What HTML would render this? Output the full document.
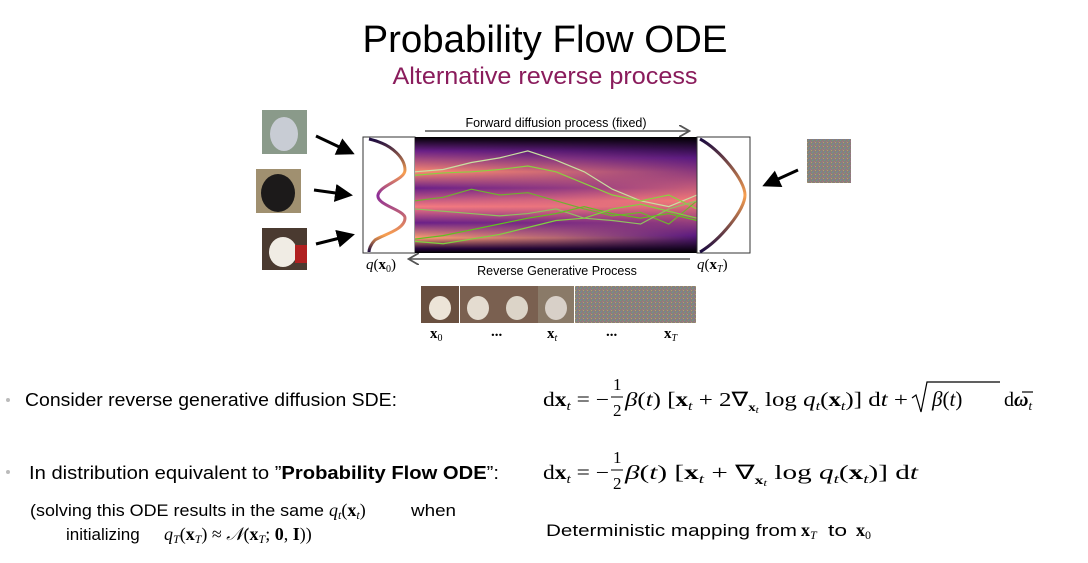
<!DOCTYPE html>
<html><head><meta charset="utf-8"><style>
html,body{margin:0;padding:0;background:#fff;width:1088px;height:563px;overflow:hidden}
svg{display:block}
.s{font-family:"Liberation Sans Narrow","Liberation Sans",sans-serif}
.m{font-family:"Liberation Serif",serif}
</style></head><body>
<svg id="slide" width="1088" height="563" viewBox="0 0 1088 563" xmlns="http://www.w3.org/2000/svg">
<defs>
<linearGradient id="bands" x1="0" y1="0" x2="0" y2="1">
<stop offset="0" stop-color="#000"/><stop offset="0.12" stop-color="#6a2088"/><stop offset="0.3" stop-color="#fa8a70"/>
<stop offset="0.44" stop-color="#6a2088"/><stop offset="0.6" stop-color="#f47a80"/><stop offset="0.74" stop-color="#6a2088"/>
<stop offset="0.87" stop-color="#fca070"/><stop offset="0.96" stop-color="#2a0640"/><stop offset="1" stop-color="#000"/>
</linearGradient>
<linearGradient id="single" x1="0" y1="0" x2="0" y2="1">
<stop offset="0" stop-color="#000"/><stop offset="0.18" stop-color="#5a1a80"/><stop offset="0.55" stop-color="#f47a78"/>
<stop offset="0.85" stop-color="#5a1a80"/><stop offset="1" stop-color="#000"/>
</linearGradient>
<linearGradient id="fadeL" x1="0" y1="0" x2="1" y2="0">
<stop offset="0" stop-color="#fff"/><stop offset="0.5" stop-color="#fff" stop-opacity="0.6"/><stop offset="1" stop-color="#fff" stop-opacity="0"/>
</linearGradient>
<mask id="mk"><rect x="415" y="137" width="282" height="116" fill="url(#fadeL)"/></mask>
<linearGradient id="curveG" x1="0" y1="0" x2="0" y2="1">
<stop offset="0" stop-color="#1a0a40"/><stop offset="0.3" stop-color="#f9a050"/><stop offset="0.5" stop-color="#8a2a9a"/>
<stop offset="0.85" stop-color="#f9a050"/><stop offset="1" stop-color="#1a0a40"/>
</linearGradient>
<linearGradient id="curveR" x1="0" y1="0" x2="0" y2="1">
<stop offset="0" stop-color="#1a0a40"/><stop offset="0.5" stop-color="#f9a050"/><stop offset="1" stop-color="#1a0a40"/>
</linearGradient>
<pattern id="noise" width="4" height="4" patternUnits="userSpaceOnUse">
<rect width="4" height="4" fill="#8a8078"/><rect width="1" height="1" fill="#6a9a8a"/><rect x="2" y="1" width="1" height="1" fill="#a07090"/><rect x="1" y="3" width="1" height="1" fill="#7080a8"/><rect x="3" y="2" width="1" height="1" fill="#b0a070"/>
</pattern>
<marker id="ah" markerWidth="8" markerHeight="8" refX="6" refY="4" orient="auto"><path d="M0,0 L7,4 L0,8" fill="none" stroke="#555" stroke-width="1.2"/></marker>
<marker id="bh" markerWidth="6" markerHeight="6" refX="5" refY="3" orient="auto"><path d="M0,0 L6,3 L0,6 Z" fill="#000"/></marker>
</defs>

<text class="s" x="545" y="52" font-size="38" text-anchor="middle" fill="#000" textLength="365" lengthAdjust="spacingAndGlyphs">Probability Flow ODE</text>
<text class="s" x="545" y="84" font-size="24" text-anchor="middle" fill="#8a1c5c" textLength="305" lengthAdjust="spacingAndGlyphs">Alternative reverse process</text>

<g>
<rect x="262" y="110" width="45" height="44" fill="#8a9a8a"/>
<ellipse cx="284" cy="134" rx="14" ry="17" fill="#c8ccd4"/>
<rect x="256" y="169" width="45" height="44" fill="#a09070"/>
<ellipse cx="278" cy="193" rx="17" ry="19" fill="#1c1a1a"/>
<rect x="262" y="228" width="45" height="42" fill="#4a3a30"/>
<ellipse cx="283" cy="252" rx="14" ry="15" fill="#f0ece4"/><rect x="295" y="245" width="12" height="18" fill="#b02020"/>
<line x1="316" y1="136" x2="352" y2="153" stroke="#000" stroke-width="3" marker-end="url(#bh)"/>
<line x1="314" y1="190" x2="350" y2="195" stroke="#000" stroke-width="3" marker-end="url(#bh)"/>
<line x1="316" y1="244" x2="352" y2="235" stroke="#000" stroke-width="3" marker-end="url(#bh)"/>
<rect x="807" y="139" width="44" height="44" fill="url(#noise)"/>
<line x1="798" y1="170" x2="765" y2="185" stroke="#000" stroke-width="3" marker-end="url(#bh)"/>

<rect x="363" y="137" width="52" height="116" fill="#fff" stroke="#333" stroke-width="1"/>
<path d="M369,139 C395,145 405,160 405,170 C405,180 380,185 378,195 C376,205 405,210 405,218 C405,230 382,235 375,240 C370,245 369,250 369,252" fill="none" stroke="url(#curveG)" stroke-width="3"/>
<rect x="415" y="137" width="282" height="116" fill="url(#single)"/>
<rect x="415" y="137" width="282" height="116" fill="url(#bands)" mask="url(#mk)"/>
<g id="traj"></g>
<rect x="697" y="137" width="53" height="116" fill="#fff" stroke="#333" stroke-width="1"/>
<path d="M700,139 C720,150 745,180 745,195 C745,210 720,240 700,252" fill="none" stroke="url(#curveR)" stroke-width="3"/>

<line x1="425" y1="131" x2="688" y2="131" stroke="#555" stroke-width="1.5" marker-end="url(#ah)"/>
<text x="556" y="127" font-family="Liberation Sans,sans-serif" font-size="12.5" text-anchor="middle">Forward diffusion process (fixed)</text>
<line x1="690" y1="259" x2="410" y2="259" stroke="#555" stroke-width="1.5" marker-end="url(#ah)"/>
<text x="557" y="275" font-family="Liberation Sans,sans-serif" font-size="12.5" text-anchor="middle">Reverse Generative Process</text>
<text class="m" x="366" y="269" font-size="15"><tspan font-style="italic">q</tspan>(<tspan font-weight="bold">x</tspan><tspan font-size="10" dy="3">0</tspan><tspan dy="-3">)</tspan></text>
<text class="m" x="697" y="269" font-size="15"><tspan font-style="italic">q</tspan>(<tspan font-weight="bold">x</tspan><tspan font-size="10" dy="3" font-style="italic">T</tspan><tspan dy="-3">)</tspan></text>

<g>
<rect x="421" y="286" width="38" height="37" fill="#6a5040"/><ellipse cx="440" cy="308" rx="11" ry="12" fill="#ece4d8"/>
<rect x="460" y="286" width="78" height="37" fill="#7a6050"/><ellipse cx="478" cy="308" rx="11" ry="12" fill="#e4dcd0"/><ellipse cx="517" cy="308" rx="11" ry="12" fill="#dcd4c8"/>
<rect x="538" y="286" width="36" height="37" fill="#8a7a68"/><ellipse cx="556" cy="308" rx="11" ry="12" fill="#d8d0c8"/>
<rect x="575" y="286" width="121" height="37" fill="url(#noise)"/>
</g>
<text class="m" font-size="15" font-weight="bold" x="430" y="338">x<tspan font-size="10" font-weight="normal" dy="3">0</tspan></text>
<text class="m" font-size="15" font-weight="bold" x="491" y="336">...</text>
<text class="m" font-size="15" font-weight="bold" x="547" y="338">x<tspan font-size="10" font-weight="normal" font-style="italic" dy="3">t</tspan></text>
<text class="m" font-size="15" font-weight="bold" x="606" y="336">...</text>
<text class="m" font-size="15" font-weight="bold" x="664" y="338">x<tspan font-size="10" font-weight="normal" font-style="italic" dy="3">T</tspan></text>
</g>

<g>
<circle cx="8" cy="400" r="2" fill="#bbb"/>
<text class="s" x="25" y="406" font-size="18" textLength="372" lengthAdjust="spacingAndGlyphs">Consider reverse generative diffusion SDE:</text>
</g>
<g class="m" font-size="20">
<text x="543" y="406" textLength="66" lengthAdjust="spacingAndGlyphs">d<tspan font-weight="bold">x</tspan><tspan font-size="13" font-style="italic" dy="4">t</tspan><tspan dy="-4"> = −</tspan></text>
<text x="613" y="390" font-size="17">1</text><line x1="611" y1="397" x2="623" y2="397" stroke="#000"/><text x="613" y="416" font-size="17">2</text>
<text x="625" y="406" textLength="283" lengthAdjust="spacingAndGlyphs"><tspan font-style="italic">β</tspan>(<tspan font-style="italic">t</tspan>) [<tspan font-weight="bold">x</tspan><tspan font-size="13" font-style="italic" dy="4">t</tspan><tspan dy="-4"> + 2∇</tspan><tspan font-size="12" font-weight="bold" dy="5">x</tspan><tspan font-size="9" font-style="italic" dy="2">t</tspan><tspan dy="-7"> log </tspan><tspan font-style="italic">q</tspan><tspan font-size="13" font-style="italic" dy="4">t</tspan><tspan dy="-4">(</tspan><tspan font-weight="bold">x</tspan><tspan font-size="13" font-style="italic" dy="4">t</tspan><tspan dy="-4">)] d</tspan><tspan font-style="italic">t</tspan> +</text>
<path d="M912,398 L916,395 L921,412 L927,382 L1000,382" fill="none" stroke="#000" stroke-width="1.2"/>
<text x="932" y="406" font-size="21"><tspan font-style="italic">β</tspan>(<tspan font-style="italic">t</tspan>)</text>
<text x="1004" y="406">d<tspan font-weight="bold" font-style="italic">ω</tspan><tspan font-size="13" font-style="italic" dy="4">t</tspan></text>
<line x1="1022" y1="392" x2="1033" y2="392" stroke="#000" stroke-width="1.2"/>
</g>

<g>
<circle cx="8" cy="472" r="2" fill="#bbb"/>
<text class="s" x="29" y="479" font-size="18" textLength="470" lengthAdjust="spacingAndGlyphs">In distribution equivalent to ”<tspan font-weight="bold">Probability Flow ODE</tspan>”:</text>
</g>
<g class="m" font-size="20">
<text x="543" y="479" textLength="66" lengthAdjust="spacingAndGlyphs">d<tspan font-weight="bold">x</tspan><tspan font-size="13" font-style="italic" dy="4">t</tspan><tspan dy="-4"> = −</tspan></text>
<text x="613" y="463" font-size="17">1</text><line x1="611" y1="470" x2="623" y2="470" stroke="#000"/><text x="613" y="489" font-size="17">2</text>
<text x="625" y="479" textLength="293" lengthAdjust="spacingAndGlyphs"><tspan font-style="italic">β</tspan>(<tspan font-style="italic">t</tspan>) [<tspan font-weight="bold">x</tspan><tspan font-size="13" font-style="italic" dy="4">t</tspan><tspan dy="-4"> + ∇</tspan><tspan font-size="12" font-weight="bold" dy="5">x</tspan><tspan font-size="9" font-style="italic" dy="2">t</tspan><tspan dy="-7"> log </tspan><tspan font-style="italic">q</tspan><tspan font-size="13" font-style="italic" dy="4">t</tspan><tspan dy="-4">(</tspan><tspan font-weight="bold">x</tspan><tspan font-size="13" font-style="italic" dy="4">t</tspan><tspan dy="-4">)] d</tspan><tspan font-style="italic">t</tspan></text>
</g>

<g font-size="17">
<text class="s" x="30" y="516" textLength="294" lengthAdjust="spacingAndGlyphs">(solving this ODE results in the same</text>
<text class="m" x="329" y="516" font-size="18"><tspan font-style="italic">q</tspan><tspan font-size="12" font-style="italic" dy="3">t</tspan><tspan dy="-3">(</tspan><tspan font-weight="bold">x</tspan><tspan font-size="12" font-style="italic" dy="3">t</tspan><tspan dy="-3">)</tspan></text>
<text class="s" x="411" y="516" textLength="45" lengthAdjust="spacingAndGlyphs">when</text>
<text class="s" x="66" y="540">initializing</text>
<text class="m" x="164" y="540" font-size="18"><tspan font-style="italic">q</tspan><tspan font-size="12" font-style="italic" dy="3">T</tspan><tspan dy="-3">(</tspan><tspan font-weight="bold">x</tspan><tspan font-size="12" font-style="italic" dy="3">T</tspan><tspan dy="-3">) ≈ </tspan><tspan font-style="italic">𝒩</tspan>(<tspan font-weight="bold">x</tspan><tspan font-size="12" font-style="italic" dy="3">T</tspan><tspan dy="-3">; </tspan><tspan font-weight="bold">0</tspan>, <tspan font-weight="bold">I</tspan>))</text>
</g>
<g>
<text class="s" x="546" y="536" font-size="17" textLength="251" lengthAdjust="spacingAndGlyphs">Deterministic mapping from</text>
<text class="m" x="801" y="536" font-size="18"><tspan font-weight="bold">x</tspan><tspan font-size="12" font-style="italic" dy="3">T</tspan></text>
<text class="s" x="828" y="536" font-size="17" textLength="19" lengthAdjust="spacingAndGlyphs">to</text>
<text class="m" x="856" y="536" font-size="18"><tspan font-weight="bold">x</tspan><tspan font-size="12" dy="3">0</tspan></text>
</g>
</svg>
<script>
// trajectory y-values (fraction of heatmap height) sampled at evenly spaced times
const times = [0,0.1,0.2,0.3,0.4,0.5,0.6,0.7,0.8,0.9,1];
const trajA = [0.30,0.28,0.22,0.18,0.12,0.20,0.30,0.45,0.55,0.60,0.50];
const trajB = [0.33,0.31,0.30,0.28,0.25,0.30,0.40,0.50,0.55,0.50,0.62];
const trajC = [0.55,0.52,0.45,0.50,0.48,0.55,0.62,0.68,0.65,0.75,0.55];
const trajD = [0.62,0.64,0.66,0.68,0.66,0.62,0.70,0.72,0.75,0.62,0.55];
const trajE = [0.88,0.85,0.80,0.75,0.70,0.66,0.60,0.66,0.70,0.66,0.72];
const trajF = [0.90,0.92,0.88,0.84,0.78,0.72,0.70,0.62,0.58,0.64,0.70];
const series = [trajA,trajB,trajC,trajD,trajE,trajF];
const colors = ['#c8e0a0','#8ad040','#70b030','#90c060','#60c020','#80d040'];
const X0=415,W=282,Y0=137,H=116;
const xs = t => X0 + t*W, ys = v => Y0 + v*H;
const g = document.getElementById('traj');
series.forEach((s,i)=>{
  const p=document.createElementNS('http://www.w3.org/2000/svg','polyline');
  p.setAttribute('points', s.map((v,j)=>xs(times[j])+','+ys(v)).join(' '));
  p.setAttribute('fill','none');p.setAttribute('stroke',colors[i]);p.setAttribute('stroke-width','1.2');
  
  
  g.appendChild(p);
});
</script>
</body></html>
